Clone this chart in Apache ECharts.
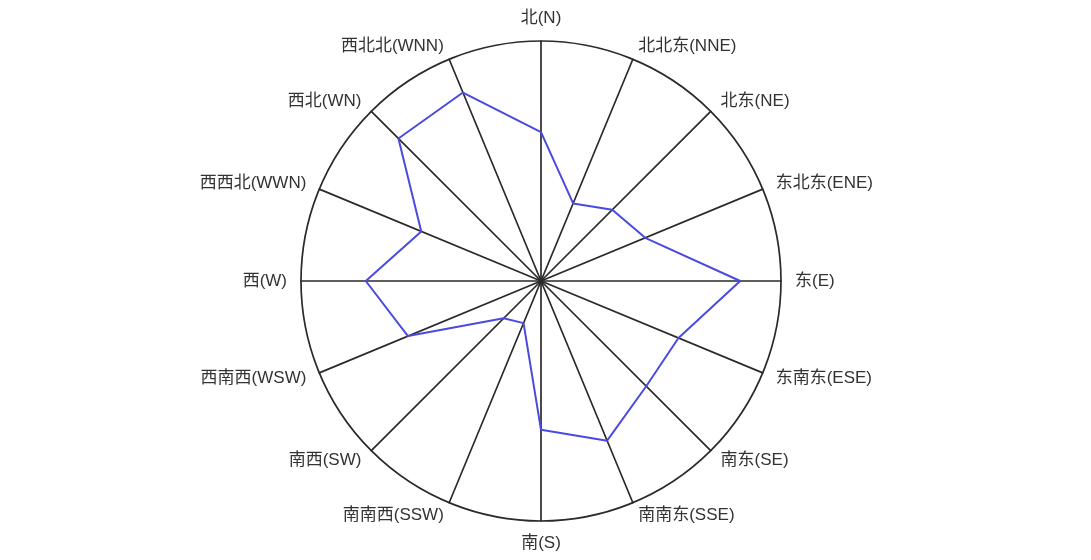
<!DOCTYPE html>
<html>
<head>
<meta charset="utf-8">
<script src="https://cdn.jsdelivr.net/npm/echarts@6/dist/echarts.min.js"></script>
<style>
html,body{margin:0;padding:0;background:#fff;}
#chart{width:1091px;height:560px;}
</style>
</head>
<body>
<div id="chart"></div>
<script>
// Directions in clockwise order starting from north
const directions = ['北(N)', '北北东(NNE)', '北东(NE)', '东北东(ENE)', '东(E)', '东南东(ESE)', '南东(SE)', '南南东(SSE)',
  '南(S)', '南南西(SSW)', '南西(SW)', '西南西(WSW)', '西(W)', '西西北(WWN)', '西北(WN)', '西北北(WNN)'];
const windValues = [62, 35, 42, 47, 83, 62, 62, 72, 62, 19, 22, 60, 73, 54, 84, 85];
const maxValue = 100;

// ECharts radar lays indicators counter-clockwise; reorder so the chart reads clockwise.
const order = [0];
for (let i = directions.length - 1; i >= 1; i--) order.push(i);
const indicators = order.map(i => ({ name: directions[i], max: maxValue }));
const seriesData = order.map(i => windValues[i]);

const chart = echarts.init(document.getElementById('chart'));
chart.setOption({
  animation: false,
  radar: {
    center: [541, 281],
    radius: 240,
    startAngle: 90,
    splitNumber: 1,
    shape: 'circle',
    indicator: indicators,
    axisName: {
      color: '#333',
      fontSize: 17,
      fontFamily: '"Liberation Sans", "Noto Sans CJK SC", sans-serif'
    },
    nameGap: 14,
    axisLine: { lineStyle: { color: '#2a2a2a', width: 1.7 } },
    splitLine: { lineStyle: { color: '#2a2a2a', width: 1.7 } },
    splitArea: { show: false },
    axisTick: { show: false },
    axisLabel: { show: false }
  },
  series: [{
    type: 'radar',
    symbol: 'none',
    lineStyle: { color: '#4a4ae0', width: 2 },
    data: [{ value: seriesData, name: '风向频率' }]
  }]
});
</script>
</body>
</html>
